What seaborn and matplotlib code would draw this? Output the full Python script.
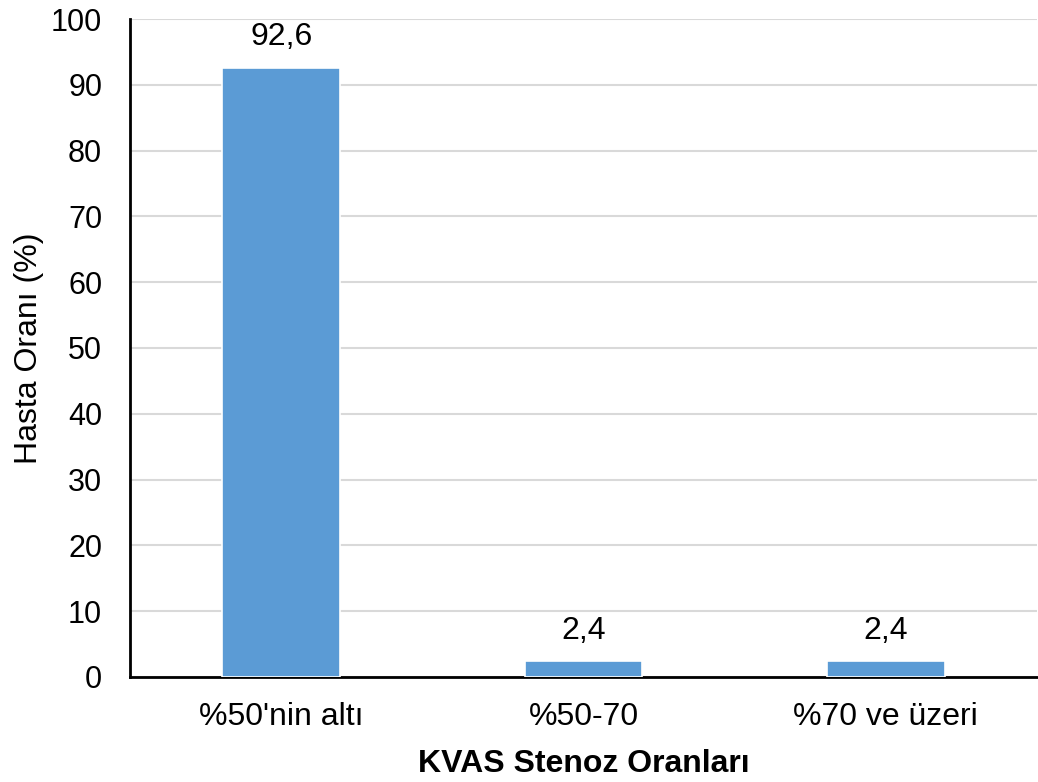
import matplotlib
matplotlib.use("Agg")
import matplotlib.pyplot as plt
import seaborn as sns
import pandas as pd

categories = ["%50'nin altı", "%50-70", "%70 ve üzeri"]
values = [92.6, 2.4, 2.4]
value_labels = ["92,6", "2,4", "2,4"]
y_ticks = [0, 10, 20, 30, 40, 50, 60, 70, 80, 90, 100]

sns.set_theme(style="white")
plt.rcParams["font.family"] = ["Liberation Sans", "DejaVu Sans"]
plt.rcParams["text.color"] = "black"
plt.rcParams["axes.labelcolor"] = "black"
plt.rcParams["xtick.color"] = "black"
plt.rcParams["ytick.color"] = "black"

df = pd.DataFrame({"cat": categories, "val": values})

fig = plt.figure(figsize=(10.38, 7.82), dpi=100)
ax = fig.add_axes([0.1252, 0.1343, 0.8738, 0.8414])

sns.barplot(data=df, x="cat", y="val", color="#5B9BD5", width=0.39,
            saturation=1, edgecolor="white", linewidth=1.2, ax=ax, zorder=3)

ax.set_xlim(-0.5, 2.5)
ax.set_ylim(0, 100)
ax.set_yticks(y_ticks)
ax.set_yticklabels([str(t) for t in y_ticks], fontsize=22)
ax.set_xticks(range(len(categories)))
ax.set_xticklabels(categories, fontsize=23)
ax.yaxis.grid(True, color="#D9D9D9", linewidth=1.5, zorder=0)
ax.set_axisbelow(True)

# category boundary ticks on the x axis
ax.tick_params(axis="x", length=0, pad=18)
ax.set_xticks([-0.5, 0.5, 1.5, 2.5], minor=True)
ax.tick_params(axis="x", which="minor", length=8, width=2, color="black", direction="out")
ax.tick_params(axis="y", length=8, width=2, color="black", direction="out", pad=12)

for side in ["top", "right"]:
    ax.spines[side].set_visible(False)
for side in ["left", "bottom"]:
    ax.spines[side].set_color("black")
    ax.spines[side].set_linewidth(2)

for i, (v, lab) in enumerate(zip(values, value_labels)):
    ax.annotate(lab, (i, v), xytext=(0, 11), textcoords="offset points",
                ha="center", va="bottom", fontsize=23, color="black")

ax.set_ylabel("Hasta Oranı (%)", fontsize=23, labelpad=5)
ax.set_xlabel("KVAS Stenoz Oranları", fontsize=23, fontweight="bold", labelpad=12)

fig.savefig("out.png", dpi=100)
